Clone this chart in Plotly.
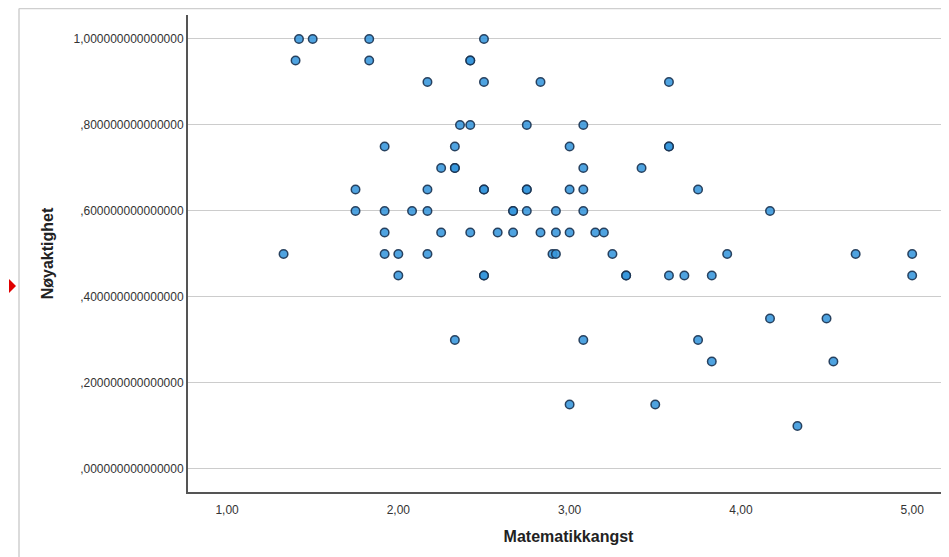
import plotly.graph_objects as go

# Data (Matematikkangst vs Nøyaktighet)
matematikkangst = [
    1.42, 1.50, 1.83, 2.50,
    1.40, 1.83, 2.42, 2.42,
    2.17, 2.50, 2.83, 3.58,
    2.36, 2.42, 2.75, 3.08,
    1.92, 2.33, 3.00, 3.58, 3.58,
    2.25, 2.33, 2.33, 3.08, 3.42,
    1.75, 2.17, 2.50, 2.50, 2.75, 2.75, 3.00, 3.08, 3.75,
    1.75, 1.92, 2.08, 2.17, 2.67, 2.67, 2.75, 2.92, 3.08, 4.17,
    1.92, 2.25, 2.42, 2.58, 2.67, 2.83, 2.92, 3.00, 3.15, 3.20,
    1.33, 1.92, 2.00, 2.17, 2.90, 2.92, 3.25, 3.92, 4.67, 5.00,
    2.00, 2.50, 2.50, 3.33, 3.33, 3.58, 3.67, 3.83, 5.00,
    4.17, 4.50,
    2.33, 3.08, 3.75,
    3.83, 4.54,
    3.00, 3.50,
    4.33,
]
noyaktighet = [
    1.00, 1.00, 1.00, 1.00,
    0.95, 0.95, 0.95, 0.95,
    0.90, 0.90, 0.90, 0.90,
    0.80, 0.80, 0.80, 0.80,
    0.75, 0.75, 0.75, 0.75, 0.75,
    0.70, 0.70, 0.70, 0.70, 0.70,
    0.65, 0.65, 0.65, 0.65, 0.65, 0.65, 0.65, 0.65, 0.65,
    0.60, 0.60, 0.60, 0.60, 0.60, 0.60, 0.60, 0.60, 0.60, 0.60,
    0.55, 0.55, 0.55, 0.55, 0.55, 0.55, 0.55, 0.55, 0.55, 0.55,
    0.50, 0.50, 0.50, 0.50, 0.50, 0.50, 0.50, 0.50, 0.50, 0.50,
    0.45, 0.45, 0.45, 0.45, 0.45, 0.45, 0.45, 0.45, 0.45,
    0.35, 0.35,
    0.30, 0.30, 0.30,
    0.25, 0.25,
    0.15, 0.15,
    0.10,
]

x_tickvals = [1, 2, 3, 4, 5]
x_ticktext = ["1,00", "2,00", "3,00", "4,00", "5,00"]
y_tickvals = [0.0, 0.2, 0.4, 0.6, 0.8, 1.0]
y_ticktext = [",000000000000000", ",200000000000000", ",400000000000000",
              ",600000000000000", ",800000000000000", "1,000000000000000"]

FONT = "Arial, 'Liberation Sans', sans-serif"

# The page body has an 8px margin, so the figure is sized to fill the rest
FIG_W, FIG_H = 941, 549
ML, MT, MB = 180, 7, 65

fig = go.Figure(
    go.Scatter(
        x=matematikkangst, y=noyaktighet, mode="markers",
        marker=dict(size=8.5, color="rgba(55,150,220,0.88)",
                    line=dict(color="rgba(25,50,80,0.9)", width=1.5)),
        showlegend=False, hoverinfo="x+y",
    )
)

fig.update_layout(
    width=FIG_W, height=FIG_H,
    margin=dict(l=ML, r=0, t=MT, b=MB),
    paper_bgcolor="white", plot_bgcolor="white",
    font=dict(family=FONT, color="#333333"),
    xaxis=dict(
        range=[0.772, 5.215], tickvals=x_tickvals, ticktext=x_ticktext,
        showgrid=False, zeroline=False, showline=True, linecolor="#555555", linewidth=2,
        tickfont=dict(size=12, color="#333333"), ticks="", ticklabelstandoff=6,
        title=dict(text="Matematikkangst", font=dict(size=16, color="#222222", family=FONT,
                                                      weight="bold"), standoff=14),
    ),
    yaxis=dict(
        range=[-0.0535, 1.0558], tickvals=y_tickvals, ticktext=y_ticktext,
        showgrid=True, gridcolor="#cccccc", gridwidth=1, zeroline=False,
        showline=True, linecolor="#555555", linewidth=2,
        tickfont=dict(size=12, color="#333333"), ticks="",
        title=dict(text="Nøyaktighet", font=dict(size=16, color="#222222", family=FONT,
                                                  weight="bold"), standoff=16),
    ),
)

# frame lines of the chart editor and red selection marker (page pixel coords)
PW = FIG_W - ML
PH = FIG_H - MT - MB
def px_x(p):
    return (p - 8 - ML) / PW
def px_y(p):
    return (FIG_H - MB - (p - 8)) / PH

fig.add_shape(type="line", xref="paper", yref="paper",
              x0=px_x(19), x1=px_x(949), y0=px_y(8.5), y1=px_y(8.5),
              line=dict(color="#cfcfcf", width=1.5))
fig.add_shape(type="line", xref="paper", yref="paper",
              x0=px_x(19), x1=px_x(19), y0=px_y(8.5), y1=px_y(557),
              line=dict(color="#cfcfcf", width=1.5))
fig.add_shape(type="path", xref="paper", yref="paper",
              path=f"M {px_x(9)} {px_y(279)} L {px_x(16)} {px_y(286)} L {px_x(9)} {px_y(293)} Z",
              fillcolor="#e00000", line=dict(color="#e00000", width=0))

fig.write_html("out.html")
